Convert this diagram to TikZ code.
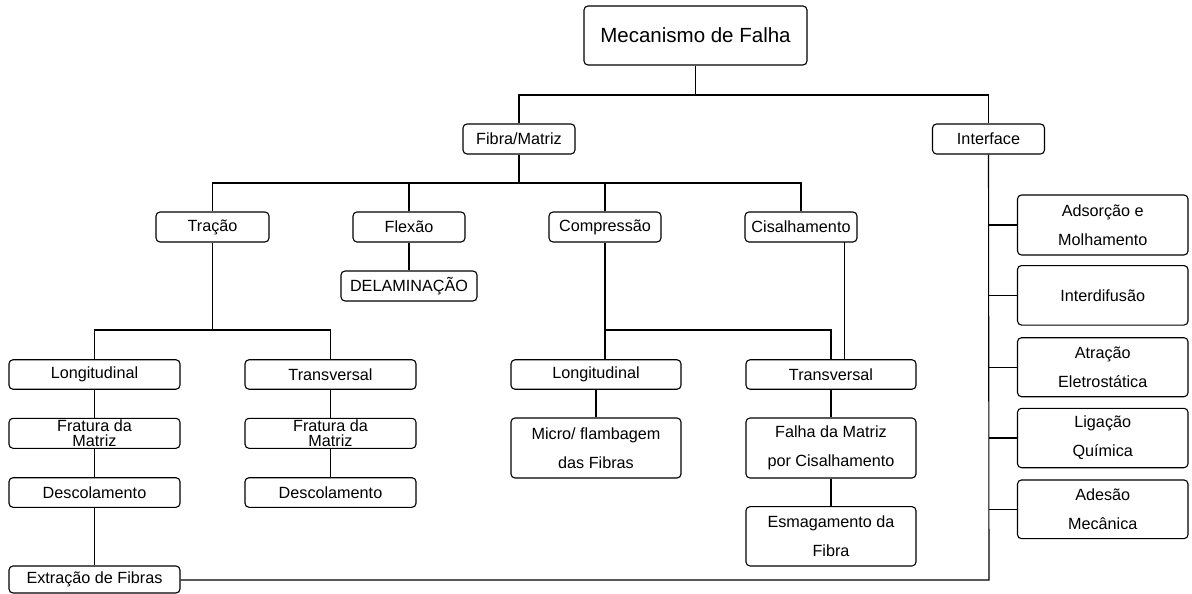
\documentclass[tikz,border=0pt]{standalone}
\usepackage{fontspec}
\setmainfont{Liberation Sans}
\begin{document}
\begin{tikzpicture}[x=1pt,y=-1pt,
  box/.style={draw, rounded corners=4pt, line width=1.1pt, fill=white, inner sep=0pt, align=center,
    font=\fontsize{16.2}{28.7}\selectfont},
  tight/.style={font=\fontsize{16.2}{15}\selectfont},
  conn/.style={line width=1.1pt}]
\useasboundingbox (0,0) rectangle (1192,594);
% nodes
\node[box, minimum width=223, minimum height=59, font=\fontsize{20.5}{24}\selectfont] (top) at (695.5,35.5) {Mecanismo de Falha};
\node[box, minimum width=112, minimum height=30] (fm) at (519,139) {Fibra/Matriz};
\node[box, minimum width=112, minimum height=30] (intf) at (988.5,139) {Interface};
\node[box, minimum width=113, minimum height=30] (trac) at (212.5,227) {Tração};
\node[box, minimum width=112, minimum height=30] (flex) at (409,227) {Flexão};
\node[box, minimum width=112, minimum height=30] (comp) at (605,227) {Compressão};
\node[box, minimum width=112, minimum height=30] (cis) at (801,227) {Cisalhamento};
\node[box, minimum width=136, minimum height=30] (delam) at (409,286) {DELAMINAÇÃO};
\node[box, minimum width=171, minimum height=29.5] (longA) at (94.5,374.5) {Longitudinal};
\node[box, minimum width=171, minimum height=29.5] (transA) at (330.5,374.5) {Transversal};
\node[box, minimum width=170, minimum height=29.5] (longC) at (596,374.5) {Longitudinal};
\node[box, minimum width=170, minimum height=29.5] (transC) at (831,374.5) {Transversal};
\node[box, tight, minimum width=171, minimum height=30] (fratA) at (94.5,433.3) {Fratura da\\Matriz};
\node[box, tight, minimum width=171, minimum height=30] (fratB) at (330.5,433.3) {Fratura da\\Matriz};
\node[box, minimum width=171, minimum height=29.6] (descA) at (94.5,492.5) {Descolamento};
\node[box, minimum width=171, minimum height=29.6] (descB) at (330.5,492.5) {Descolamento};
\node[box, minimum width=170, minimum height=60] (micro) at (596,448) {Micro/ flambagem\\das Fibras};
\node[box, minimum width=170, minimum height=60] (falha) at (831,448) {Falha da Matriz\\por Cisalhamento};
\node[box, minimum width=170, minimum height=59.3] (esmag) at (831,536.3) {Esmagamento da\\Fibra};
\node[box, minimum width=171, minimum height=27] (extr) at (94.5,579.5) {Extração de Fibras};
\node[box, minimum width=170.5, minimum height=60] (ads) at (1102.75,225) {Adsorção e\\Molhamento};
\node[box, minimum width=170.5, minimum height=59.5] (inter) at (1102.75,295.3) {Interdifusão};
\node[box, minimum width=170.5, minimum height=59] (atr) at (1102.75,367.2) {Atração\\Eletrostática};
\node[box, minimum width=170.5, minimum height=59.4] (lig) at (1102.75,438) {Ligação\\Química};
\node[box, minimum width=170.5, minimum height=58.7] (ades) at (1102.75,509.3) {Adesão\\Mecânica};
% connector junctions
\coordinate (j1) at (695.5,95);
\coordinate (j2) at (519,183);
\coordinate (j3) at (212.5,330);
\coordinate (j4) at (605,330);
\coordinate (j5) at (989,580);
% connectors
\begin{scope}[on background layer/.style={}]
\draw[conn] (top.south) -- (j1);
\draw[conn] (fm.north) |- (j1) -| (intf.north);
\draw[conn] (fm.south) -- (j2);
\draw[conn] (trac.north) |- (j2) -| (cis.north);
\draw[conn] (flex.north) -- (flex.north |- j2);
\draw[conn] (comp.north) -- (comp.north |- j2);
\draw[conn] (flex.south) -- (delam.north);
\draw[conn] (trac.south) -- (j3);
\draw[conn] (longA.north) |- (j3) -| (transA.north);
\draw[conn] (comp.south) -- (j4);
\draw[conn] (j4) -- (j4 |- longC.north);
\draw[conn] (j4) -| (transC.north);
\draw[conn] (844.5,242) coordinate (c1) -- (c1 |- transC.north);
\draw[conn] (longA.south) -- (fratA.north);
\draw[conn] (fratA.south) -- (descA.north);
\draw[conn] (descA.south) -- (extr.north);
\draw[conn] (transA.south) -- (fratB.north);
\draw[conn] (fratB.south) -- (descB.north);
\draw[conn] (longC.south) -- (micro.north);
\draw[conn] (transC.south) -- (falha.north);
\draw[conn] (falha.south) -- (esmag.north);
\draw[conn] (extr.east |- j5) -- (j5) -- (intf.south);
\draw[conn] (ads.west) -- (j5 |- ads.west);
\draw[conn] (inter.west) -- (j5 |- inter.west);
\draw[conn] (atr.west) -- (j5 |- atr.west);
\draw[conn] (lig.west) -- (j5 |- lig.west);
\draw[conn] (ades.west) -- (j5 |- ades.west);
\end{scope}
\end{tikzpicture}
\end{document}
